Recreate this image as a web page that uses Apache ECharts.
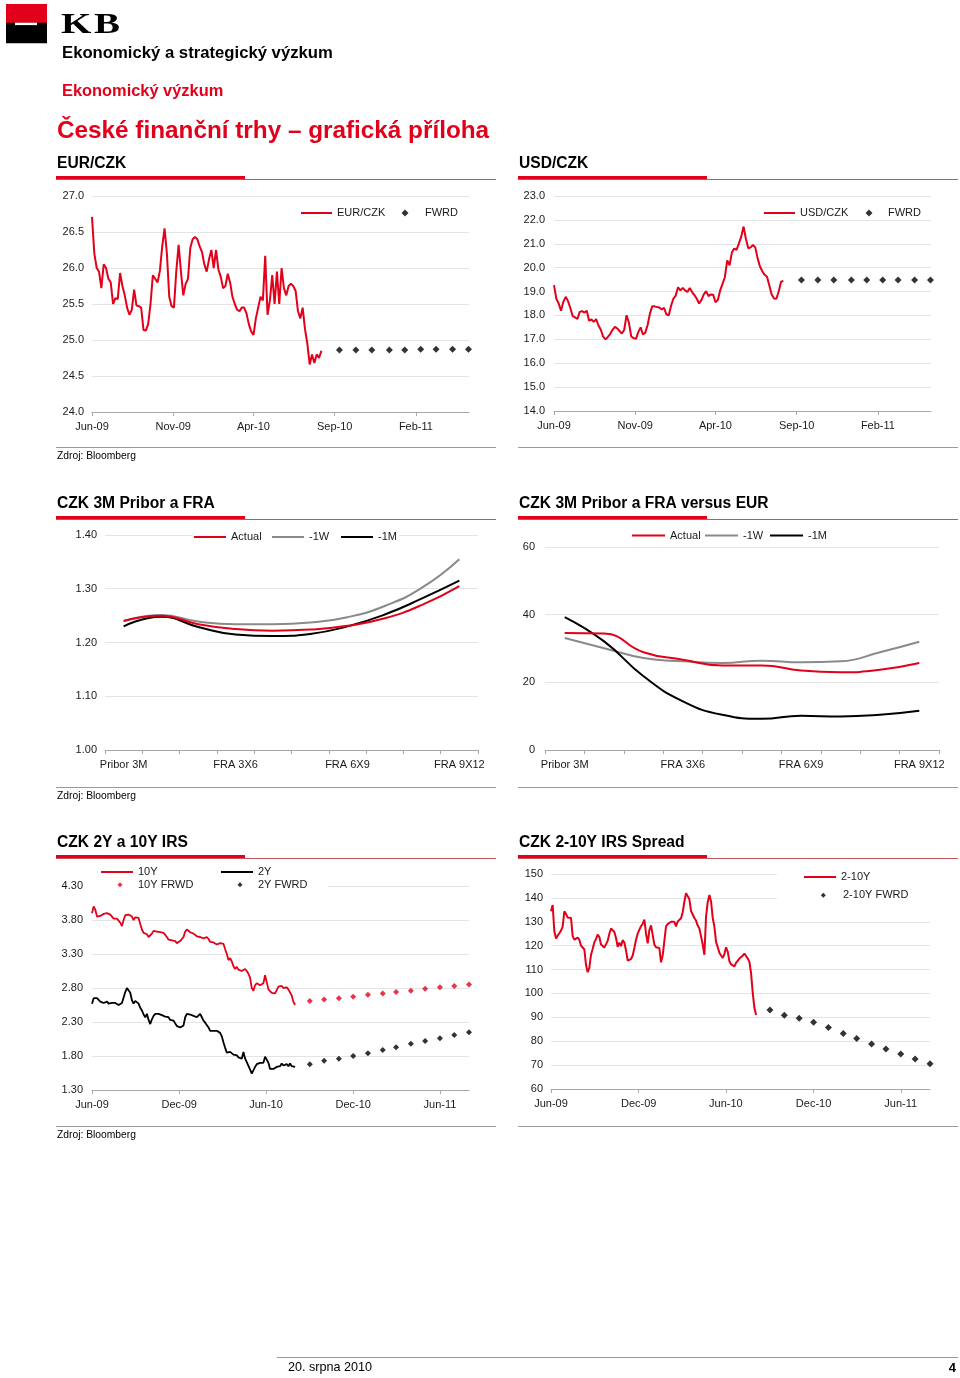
<!DOCTYPE html>
<html><head><meta charset="utf-8">
<script src="https://cdn.jsdelivr.net/npm/echarts@6/dist/echarts.min.js"></script>
<style>html,body{margin:0;padding:0;background:#fff}#c{width:960px;height:1378px}</style>
</head><body><div id="c"></div>
<script>
// ---------------- DATA ----------------
const eurczkRange = ['2009-06-01', '2010-08-07'];
const eurczk = [
26.71,26.2,26.0,25.95,25.72,26.05,26.0,25.85,25.8,25.5,
25.58,25.57,25.93,25.75,25.62,25.45,25.35,25.42,25.7,25.48,
25.47,25.45,25.14,25.13,25.22,25.5,25.9,25.85,25.8,25.96,
26.3,26.55,26.2,25.6,25.47,25.45,25.95,26.32,25.95,25.62,
25.78,25.85,26.28,26.4,26.43,26.4,26.3,26.22,26.05,25.95,
26.12,26.25,26.0,26.25,25.98,25.88,25.72,25.75,25.92,25.8,
25.6,25.5,25.42,25.4,25.45,25.45,25.37,25.22,25.12,25.07,
25.3,25.45,25.6,25.55,26.17,25.35,25.55,25.9,25.5,25.95,
25.5,26.0,25.72,25.62,25.75,25.78,25.75,25.68,25.4,25.3,
25.45,25.15,24.95,24.66,24.8,24.68,24.8,24.75,24.85];
const fxFwdDates = ['2010-09-10','2010-10-11','2010-11-10','2010-12-13','2011-01-11','2011-02-10','2011-03-11','2011-04-11','2011-05-11'];
const eurFwd = [24.86,24.86,24.86,24.86,24.86,24.87,24.87,24.87,24.87];

const usdczkRange = ['2009-06-01', '2010-08-07'];
const usdczk = [
19.27,18.7,18.5,18.2,18.57,18.78,18.6,18.3,17.97,17.92,
17.85,18.15,18.18,18.12,18.2,17.78,17.83,17.73,17.85,17.58,
17.4,17.11,17.0,17.1,17.22,17.4,17.52,17.46,17.35,17.24,
17.4,18.01,17.7,17.12,17.05,17.02,17.3,17.5,17.2,17.28,
17.6,18.08,18.39,18.38,18.35,18.33,18.25,18.32,18.05,18.0,
18.4,18.7,18.83,19.18,19.05,19.15,19.05,18.98,19.15,18.98,
18.85,18.7,18.5,18.65,18.88,19.02,18.81,18.88,18.87,18.55,
18.65,19.05,19.32,19.6,20.3,20.1,20.63,20.8,20.75,21.02,
21.3,21.72,21.2,20.81,20.85,20.95,20.85,20.39,20.05,19.85,
19.7,19.62,19.25,18.88,18.71,18.7,19.0,19.41,19.45];
const usdFwd = [19.48,19.48,19.48,19.48,19.48,19.48,19.48,19.48,19.48];

const fxTicks = ['2009-06-01','2009-11-01','2010-04-01','2010-09-01','2011-02-01'];
const fxAxisEnd = '2011-05-12';

const fraCategories = ['Pribor 3M','FRA 1X4','FRA 2X5','FRA 3X6','FRA 4X7','FRA 5X8','FRA 6X9','FRA 7X10','FRA 8X11','FRA 9X12'];
const czkActual = [1.240,1.250,1.234,1.225,1.222,1.224,1.231,1.245,1.270,1.305];
const czkW1     = [1.240,1.251,1.239,1.234,1.234,1.237,1.247,1.268,1.302,1.355];
const czkM1     = [1.230,1.248,1.229,1.215,1.212,1.216,1.230,1.252,1.282,1.315];

const vsEurActual = [34.6,34.4,28.9,26.7,25.0,25.0,23.5,23.0,23.7,25.7];
const vsEurW1     = [33.1,30.1,27.2,26.2,25.7,26.4,25.9,26.2,28.9,32.0];
const vsEurM1     = [39.3,32.1,21.8,14.4,10.4,9.2,10.1,9.9,10.4,11.6];

const irsRange = ['2009-06-01', '2010-08-01'];
const irs10y = [
3.90,4.00,3.95,3.85,3.87,3.86,3.86,3.89,3.90,3.90,
3.88,3.88,3.86,3.82,3.81,3.82,3.79,3.76,3.71,3.80,
3.87,3.89,3.88,3.89,3.85,3.80,3.84,3.86,3.83,3.74,
3.66,3.61,3.59,3.59,3.55,3.53,3.60,3.64,3.63,3.63,
3.62,3.62,3.62,3.61,3.60,3.55,3.51,3.50,3.50,3.51,
3.49,3.46,3.46,3.49,3.51,3.55,3.63,3.66,3.64,3.62,
3.61,3.60,3.58,3.56,3.56,3.55,3.53,3.53,3.55,3.55,
3.52,3.48,3.47,3.47,3.46,3.44,3.46,3.46,3.44,3.45,
3.37,3.30,3.21,3.24,3.19,3.12,3.08,3.11,3.07,3.05,
3.05,3.04,3.08,3.05,3.01,2.95,2.80,2.76,2.84,2.87,
2.86,2.84,2.83,2.87,2.99,2.98,2.78,2.76,2.73,2.74,
2.72,2.77,2.82,2.81,2.83,2.80,2.82,2.81,2.78,2.79,
2.69,2.60,2.55];
const irs2y = [
2.57,2.65,2.67,2.65,2.63,2.60,2.59,2.58,2.57,2.60,
2.57,2.55,2.58,2.60,2.58,2.57,2.55,2.57,2.58,2.60,
2.74,2.80,2.80,2.73,2.62,2.57,2.61,2.62,2.57,2.51,
2.47,2.41,2.37,2.42,2.33,2.27,2.34,2.39,2.42,2.40,
2.42,2.41,2.40,2.40,2.38,2.37,2.37,2.33,2.34,2.32,
2.28,2.24,2.22,2.22,2.23,2.25,2.37,2.42,2.43,2.41,
2.43,2.39,2.41,2.37,2.36,2.42,2.37,2.32,2.29,2.27,
2.22,2.17,2.16,2.17,2.16,2.17,2.15,2.14,2.09,2.00,
1.92,1.85,1.83,1.86,1.85,1.82,1.80,1.81,1.78,1.79,
1.76,1.86,1.76,1.71,1.69,1.60,1.54,1.53,1.64,1.68,
1.69,1.70,1.70,1.70,1.79,1.80,1.70,1.61,1.60,1.61,
1.60,1.64,1.66,1.65,1.69,1.66,1.65,1.68,1.65,1.69,
1.65,1.67,1.64];
const irsFwdDates = ['2010-09-01','2010-10-01','2010-11-01','2010-12-01','2011-01-01','2011-02-01','2011-03-01','2011-04-01','2011-05-01','2011-06-01','2011-07-01','2011-08-01'];
const irs10yFwd = [2.61,2.63,2.65,2.67,2.70,2.72,2.74,2.76,2.79,2.81,2.83,2.85];
const irs2yFwd  = [1.68,1.73,1.76,1.80,1.84,1.89,1.93,1.98,2.02,2.06,2.11,2.15];

const spreadRange = ['2009-06-01', '2010-08-03'];
const spread = [
134.4,137.0,126.0,123.0,124.2,125.2,126.3,128.0,134.4,133.3,
131.8,132.6,131.6,124.0,122.5,123.2,123.4,122.5,120.0,119.3,
118.4,112.0,108.9,110.7,116.2,118.6,121.4,122.8,124.6,123.6,
120.5,120.7,119.2,118.5,122.0,125.0,127.2,127.0,125.7,123.2,
119.5,121.3,119.8,122.3,121.3,118.0,113.8,113.3,114.4,115.9,
119.0,122.5,125.0,126.7,128.1,129.2,130.9,125.0,121.0,126.5,
128.5,124.5,120.5,119.3,118.8,119.0,113.0,116.0,122.0,128.1,
129.0,128.5,130.0,129.2,130.0,128.1,130.1,130.9,131.5,134.0,
138.5,142.0,141.2,139.4,134.5,135.0,131.6,130.5,128.4,127.2,
123.9,120.5,116.2,132.3,138.2,141.2,138.5,131.6,128.0,121.6,
119.4,117.0,115.9,114.9,116.5,119.3,117.5,113.5,112.2,111.5,
111.3,112.8,113.4,114.6,114.4,115.8,116.7,116.2,114.6,113.2,
108.5,100.2,94.0,91.0];
const spreadFwd = [93.1,90.9,89.6,87.9,85.7,83.2,81.1,78.8,76.7,74.7,72.6,70.6];

const irsTicks = ['2009-06-01','2009-12-01','2010-06-01','2010-12-01','2011-06-01'];
const irsAxisEnd = '2011-08-01';

// ---------------- HELPERS ----------------
const MONTHS = ['Jan','Feb','Mar','Apr','May','Jun','Jul','Aug','Sep','Oct','Nov','Dec'];
const DAY = 86400000;
const t = s => Date.UTC(+s.slice(0,4), +s.slice(5,7)-1, +s.slice(8,10));
const T0 = t('2009-06-01');
const day = s => (t(s) - T0) / DAY;                       // days since 1 Jun 2009
const spaced = (vals, range) => { const a = day(range[0]), b = day(range[1]); const st = (b-a)/(vals.length-1); return vals.map((v,i)=>[a+i*st, v]); };
const dated = (dates, vals) => dates.map((d,i)=>[day(d), vals[i]]);
const fmtMonth = v => { const d = new Date(T0 + Math.round(v) * DAY); return MONTHS[d.getUTCMonth()] + '-' + String(d.getUTCFullYear()).slice(2); };

const FONT = 'Liberation Sans, Arial, Helvetica, sans-serif';
const RED = '#e2001a', GRAY = '#8a8a8a', BLACK = '#000';
const LBL = {fontSize: 11, color: '#1a1a1a', fontFamily: FONT};

const grids = [
  {left: 92,  top: 196, width: 377, height: 216},
  {left: 554, top: 196, width: 377, height: 215},
  {left: 105, top: 535, width: 373, height: 215},
  {left: 545, top: 547, width: 394, height: 203},
  {left: 92,  top: 886, width: 377, height: 204},
  {left: 551, top: 874, width: 379, height: 215}
].map(g => Object.assign({containLabel: false, outerBoundsMode: 'none'}, g));

function timeAxis(gi, ticks, end) {
  const tv = ticks.map(day);
  return {type: 'value', gridIndex: gi, min: 0, max: day(end),
    axisLine: {show: true, onZero: false, lineStyle: {color: '#a8a8a8', width: 1}},
    axisTick: {show: true, customValues: tv, length: 4, lineStyle: {color: '#a8a8a8'}},
    axisLabel: Object.assign({customValues: tv, formatter: fmtMonth, margin: 9, showMinLabel: true, showMaxLabel: true}, LBL),
    splitLine: {show: false}, minorTick: {show: false}};
}
function catAxis(gi) {
  return {type: 'category', gridIndex: gi, data: fraCategories, boundaryGap: true,
    axisLine: {show: true, onZero: false, lineStyle: {color: '#a8a8a8', width: 1}},
    axisTick: {show: true, interval: 0, length: 4, lineStyle: {color: '#a8a8a8'}},
    axisLabel: Object.assign({interval: 2, margin: 9}, LBL),
    splitLine: {show: false}};
}
function valAxis(gi, min, max, interval, dec, margin) {
  return {type: 'value', gridIndex: gi, min, max, interval,
    axisLine: {show: false}, axisTick: {show: false},
    splitLine: {show: true, lineStyle: {color: '#e4e4e4', width: 1}},
    axisLabel: Object.assign({formatter: v => v.toFixed(dec), margin}, LBL)};
}
const lineS = (name, gi, data, color, width, smooth) => ({type: 'line', name, xAxisIndex: gi, yAxisIndex: gi, data,
  symbol: 'none', showSymbol: false, smooth: smooth || false, lineStyle: {color, width}, itemStyle: {color}, z: 3});
const fwdS = (name, gi, data, color, size) => ({type: 'scatter', name, xAxisIndex: gi, yAxisIndex: gi, data,
  symbol: 'diamond', symbolSize: size, itemStyle: {color}, z: 4});

// one legend component per entry, so line entries and diamond entries can have their own icon sizes
const LEG_TEXT = {fontSize: 11, color: '#1a1a1a', fontFamily: FONT, lineHeight: 12};
const legends = [];
function legLine(name, iconLeft, cy, w) {
  legends.push({left: iconLeft, top: cy - 6, data: [name], icon: 'rect', itemWidth: w || 32, itemHeight: 2,
    padding: 0, selectedMode: false, textStyle: LEG_TEXT});
}
function legDot(name, cx, cy, size, textX) {
  const pad = Math.max(0, textX - (cx + size / 2) - 5);
  legends.push({left: cx - size / 2, top: cy - 6, data: [name], icon: 'diamond', itemWidth: size, itemHeight: size,
    padding: 0, selectedMode: false, textStyle: Object.assign({padding: [0, 0, 0, pad]}, LEG_TEXT)});
}
legLine('EUR/CZK', 301, 213, 31);  legDot('FWRD', 405, 213, 7, 425);
legLine('USD/CZK', 764, 213, 31);  legDot('FWRD', 869, 213, 7, 888);
legLine('Actual', 194, 537); legLine('-1W', 272, 537); legLine('-1M', 341, 537);
legLine('Actual', 632, 535.5, 33); legLine('-1W', 705, 535.5, 33); legLine('-1M', 770, 535.5, 33);
legLine('10Y', 101, 872); legDot('10Y FRWD', 120, 884.7, 5, 138);
legLine('2Y', 221, 872);  legDot('2Y FWRD', 240, 884.7, 5, 258);
legLine('2-10Y', 804, 877); legDot('2-10Y FWRD', 823.3, 895.3, 5, 843);

// ---------------- PAGE GRAPHICS ----------------
const g = [];
const txt = (x, y, s, size, color, bold, align, family) => g.push({type: 'text', x, y, style: {text: s,
  fontSize: size, fontWeight: bold ? 'bold' : 'normal', fontFamily: family || FONT, fill: color,
  align: align || 'left', verticalAlign: 'middle'}});
const rect = (x, y, w, h, fill, z) => g.push({type: 'rect', shape: {x, y, width: w, height: h}, style: {fill}, z: z || 0});

// logo
rect(6, 4, 41, 19, RED);
rect(6, 22.7, 41, 20.6, '#000');
rect(15, 22.7, 22, 2.4, '#fff', 1);
g.push({type: 'text', x: 61, y: 25.5, scaleX: 1.3, style: {text: 'K', fontSize: 30, fontWeight: 'bold', fontFamily: 'Liberation Serif, DejaVu Serif, serif', fill: '#000', verticalAlign: 'middle'}});
g.push({type: 'text', x: 94, y: 25.5, scaleX: 1.3, style: {text: 'B', fontSize: 30, fontWeight: 'bold', fontFamily: 'Liberation Serif, DejaVu Serif, serif', fill: '#000', verticalAlign: 'middle'}});
txt(62, 53, 'Ekonomický a strategický výzkum', 16.7, '#000', true);
txt(62, 91, 'Ekonomický výzkum', 16.4, RED, true);
txt(57, 131, 'České finanční trhy – grafická příloha', 24.3, RED, true);

// section titles, underlines, bottom rules
const sections = [
  {y: 163, titles: ['EUR/CZK', 'USD/CZK']},
  {y: 503, titles: ['CZK 3M Pribor a FRA', 'CZK 3M Pribor a FRA versus EUR']},
  {y: 842, titles: ['CZK 2Y a 10Y IRS', 'CZK 2-10Y IRS Spread']}
];
sections.forEach(s => {
  [[57, 496], [519, 958]].forEach((cx, i) => {
    txt(cx[0], s.y + 1, s.titles[i], 15.6, '#000', true);
    rect(cx[0] - 1, s.y + 13, 189, 3, RED);
    rect(cx[0] - 1, s.y + 16, cx[1] - cx[0] + 1, 1, '#c4555c');
    rect(cx[0] - 1, s.y + 284, cx[1] - cx[0] + 1, 1, '#9a9a9a');
  });
  txt(57, s.y + 293, 'Zdroj: Bloomberg', 10.3, '#000', false);
});
// white masks behind legends (the gridlines stop there in the original)
rect(193, 530, 206, 14, '#fff', 1);
rect(92, 863, 236, 34, '#fff', 1);
rect(777, 866, 156, 36, '#fff', 1);
// footer
rect(277, 1357, 681, 1, '#9a9a9a');
txt(288, 1368, '20. srpna 2010', 12.6, '#000', false);
txt(956, 1368, '4', 13, '#000', true, 'right');

// ---------------- CHART ----------------
const chart = echarts.init(document.getElementById('c'), null, {renderer: 'canvas'});
chart.setOption({
  animation: false,
  backgroundColor: '#fff',
  textStyle: {fontFamily: FONT},
  grid: grids,
  xAxis: [timeAxis(0, fxTicks, fxAxisEnd), timeAxis(1, fxTicks, fxAxisEnd), catAxis(2), catAxis(3),
          timeAxis(4, irsTicks, irsAxisEnd), timeAxis(5, irsTicks, irsAxisEnd)],
  yAxis: [valAxis(0, 24, 27, 0.5, 1, 8), valAxis(1, 14, 23, 1, 1, 9), valAxis(2, 1.0, 1.4, 0.1, 2, 8),
          valAxis(3, 0, 60, 20, 0, 10), valAxis(4, 1.3, 4.3, 0.5, 2, 9), valAxis(5, 60, 150, 10, 0, 8)],
  legend: legends,
  graphic: {elements: g},
  series: [
    lineS('EUR/CZK', 0, spaced(eurczk, eurczkRange), RED, 2),
    fwdS('FWRD', 0, dated(fxFwdDates, eurFwd), BLACK, 7),
    lineS('USD/CZK', 1, spaced(usdczk, usdczkRange), RED, 2),
    fwdS('FWRD', 1, dated(fxFwdDates, usdFwd), BLACK, 7),
    lineS('-1W', 2, czkW1, GRAY, 2, 0.5),
    lineS('-1M', 2, czkM1, BLACK, 2, 0.5),
    lineS('Actual', 2, czkActual, RED, 2, 0.5),
    lineS('-1W', 3, vsEurW1, GRAY, 2, 0.5),
    lineS('-1M', 3, vsEurM1, BLACK, 2, 0.5),
    lineS('Actual', 3, vsEurActual, RED, 2, 0.5),
    lineS('10Y', 4, spaced(irs10y, irsRange), RED, 1.8),
    lineS('2Y', 4, spaced(irs2y, irsRange), BLACK, 1.8),
    fwdS('10Y FRWD', 4, dated(irsFwdDates, irs10yFwd), RED, 6),
    fwdS('2Y FWRD', 4, dated(irsFwdDates, irs2yFwd), BLACK, 6),
    lineS('2-10Y', 5, spaced(spread, spreadRange), RED, 2),
    fwdS('2-10Y FWRD', 5, dated(irsFwdDates, spreadFwd), BLACK, 7)
  ]
});
</script></body></html>
